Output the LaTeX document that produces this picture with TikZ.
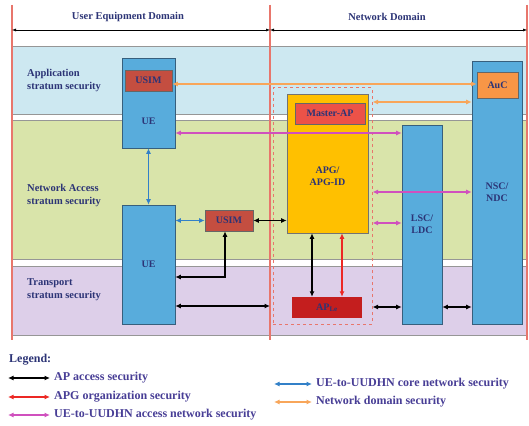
\documentclass[tikz,border=0pt]{standalone}
\usepackage{fontspec}
\setmainfont{Liberation Serif}
\usetikzlibrary{arrows.meta,positioning,calc}
\definecolor{AppBand}{RGB}{205,232,241}
\definecolor{AccBand}{RGB}{217,228,170}
\definecolor{TrnBand}{RGB}{221,207,233}
\definecolor{BandEdge}{RGB}{150,150,150}
\definecolor{DomainRed}{RGB}{232,118,108}
\definecolor{EntityBlue}{RGB}{88,172,220}
\definecolor{EntityEdge}{RGB}{55,95,125}
\definecolor{UsimRed}{RGB}{196,78,64}
\definecolor{MasterRed}{RGB}{236,82,72}
\definecolor{ApleRed}{RGB}{196,30,30}
\definecolor{ApgYellow}{RGB}{255,192,0}
\definecolor{AucOrange}{RGB}{248,150,70}
\definecolor{LabelNavy}{RGB}{44,52,118}
\definecolor{LegendInk}{RGB}{72,62,150}
\definecolor{OrgRed}{RGB}{236,40,36}
\definecolor{AnMagenta}{RGB}{208,80,190}
\definecolor{CoreBlue}{RGB}{50,128,200}
\definecolor{NdsOrange}{RGB}{248,166,90}

\begin{document}
\begin{tikzpicture}[x=1pt,y=-1pt,
    txt/.style={text=LabelNavy,font=\fontsize{10}{12}\selectfont\bfseries,
      align=center,inner sep=0pt},
    stratum/.style={txt,font=\fontsize{10.5}{13}\selectfont\bfseries,align=left,anchor=west},
    legtxt/.style={text=LegendInk,font=\fontsize{12}{13}\selectfont\bfseries,
      anchor=west,inner sep=0pt},
    band/.style={draw=BandEdge,line width=0.9pt},
    domline/.style={DomainRed,line width=1.2pt},
    domarr/.style={black,line width=0.5pt,{Latex[length=4pt,width=3pt]}-{Latex[length=4pt,width=3pt]}},
    entity/.style={draw=EntityEdge,fill=EntityBlue,line width=0.6pt,txt},
    redbox/.style={draw=black!60,line width=0.6pt,txt},
    sec/.style={line width=1.2pt,{Latex[length=5.5pt,width=5pt]}-{Latex[length=5.5pt,width=5pt]}},
    accarr/.style={sec,black},
    orgarr/.style={sec,OrgRed},
    anarr/.style={sec,AnMagenta},
    corearr/.style={sec,CoreBlue},
    ndsarr/.style={sec,NdsOrange}]
  \useasboundingbox (0,0) rectangle (529,425);
  \fill[white] (0,0) rectangle (529,425);
  % strata
  \draw[band,fill=AppBand] (12,46) rectangle (527,114);
  \draw[band,fill=AccBand] (12,120) rectangle (527,259);
  \draw[band,fill=TrnBand] (12,266) rectangle (527,335);
  \node[stratum] (appl) at (27,80) {Application\\stratum security};
  \node[stratum] (accl) at (27,195) {Network Access\\stratum security};
  \node[stratum] (trnl) at (27,290) {Transport\\stratum security};
  % domains
  \draw[domline] (12,5) -- (12,340);
  \draw[domline] (270,5) -- (270,340);
  \draw[domline] (527,5) -- (527,340);
  \coordinate (uedl) at (12,30);
  \coordinate (ndmid) at (270,30);
  \coordinate (ndr) at (527,30);
  \draw[domarr] (uedl) -- (ndmid);
  \draw[domarr] (ndmid) -- (ndr);
  \node[txt,font=\fontsize{10.5}{12}\selectfont\bfseries] (ued) at (128,17) {User Equipment Domain};
  \node[txt,font=\fontsize{10.5}{12}\selectfont\bfseries] (nwd) at (387,17) {Network Domain};
  % entities
  \node[draw=DomainRed,dashed,line width=1pt,minimum width=99pt,minimum height=236pt]
    (aprange) at (322.5,206) {};
  \node[entity,minimum width=53pt,minimum height=90pt] (ue1) at (148.5,103) {};
  \node[txt] (ue1txt) at (148.5,121) {UE};
  \node[redbox,fill=UsimRed,minimum width=47pt,minimum height=21pt] (usim1) at (148.5,80.5) {USIM};
  \node[entity,minimum width=53pt,minimum height=119pt] (ue2) at (148.5,264.5) {UE};
  \node[redbox,fill=UsimRed,minimum width=48pt,minimum height=21pt] (usim2) at (229,220.5) {USIM};
  \node[draw=black!55,fill=ApgYellow,line width=0.6pt,minimum width=81pt,minimum height=139pt]
    (apg) at (327.5,163.5) {};
  \node[txt] (apgtxt) at (327.5,176) {APG/\\APG-ID};
  \node[redbox,fill=MasterRed,minimum width=70pt,minimum height=21pt] (master) at (330,113.5) {Master-AP};
  \node[txt,fill=ApleRed,minimum width=70pt,minimum height=21pt] (aple) at (327,307.5) {AP\textsubscript{Le}};
  \node[entity,minimum width=40pt,minimum height=199pt] (lsc) at (422,224.5) {LSC/\\LDC};
  \node[entity,minimum width=50pt,minimum height=263pt] (nsc) at (497,192.5) {NSC/\\NDC};
  \node[redbox,fill=AucOrange,minimum width=41pt,minimum height=26pt] (auc) at (497.5,85) {AuC};
  % security links
  \draw[ndsarr] (usim1.east |- 0,84) -- (auc.west |- 0,84);
  \draw[ndsarr] (aprange.east |- 0,102) -- (nsc.west |- 0,102);
  \draw[anarr] (ue1.east |- 0,133) -- (lsc.west |- 0,133);
  \draw[anarr] (aprange.east |- 0,192) -- (nsc.west |- 0,192);
  \draw[anarr] (aprange.east |- 0,223) -- (lsc.west |- 0,223);
  \draw[corearr] (ue1.south) -- (ue2.north);
  \draw[corearr] (ue2.east |- usim2) -- (usim2.west);
  \draw[accarr] (usim2.east) -- (apg.west |- usim2);
  \draw[accarr] ([xshift=-4pt]usim2.south) |- (ue2.east |- 0,277);
  \coordinate (trnend) at (270,306);
  \draw[accarr] (ue2.east |- trnend) -- (trnend);
  \draw[accarr] (apg.south -| 312,0) -- (aple.north -| 312,0);
  \draw[orgarr] (apg.south -| 342,0) -- (aple.north -| 342,0);
  \draw[accarr] (aprange.east |- 0,307) -- (lsc.west |- 0,307);
  \draw[accarr] (lsc.east |- 0,307) -- (nsc.west |- 0,307);
  % legend
  \node[legtxt,text=LabelNavy] (legend) at (9,360) {Legend:};
  \node[legtxt] (legacc) at (54,378) {AP access security};
  \node[legtxt] (legorg) at (54,397) {APG organization security};
  \node[legtxt] (legan) at (54,415) {UE-to-UUDHN access network security};
  \node[legtxt] (legcore) at (316,384) {UE-to-UUDHN core network security};
  \node[legtxt] (legnds) at (316,402) {Network domain security};
  \draw[accarr] ([xshift=-46pt]legacc.west) -- ([xshift=-4pt]legacc.west);
  \draw[orgarr] ([xshift=-46pt]legorg.west) -- ([xshift=-4pt]legorg.west);
  \draw[anarr] ([xshift=-46pt]legan.west) -- ([xshift=-4pt]legan.west);
  \draw[corearr] ([xshift=-42pt]legcore.west) -- ([xshift=-4pt]legcore.west);
  \draw[ndsarr] ([xshift=-42pt]legnds.west) -- ([xshift=-4pt]legnds.west);
\end{tikzpicture}
\end{document}
